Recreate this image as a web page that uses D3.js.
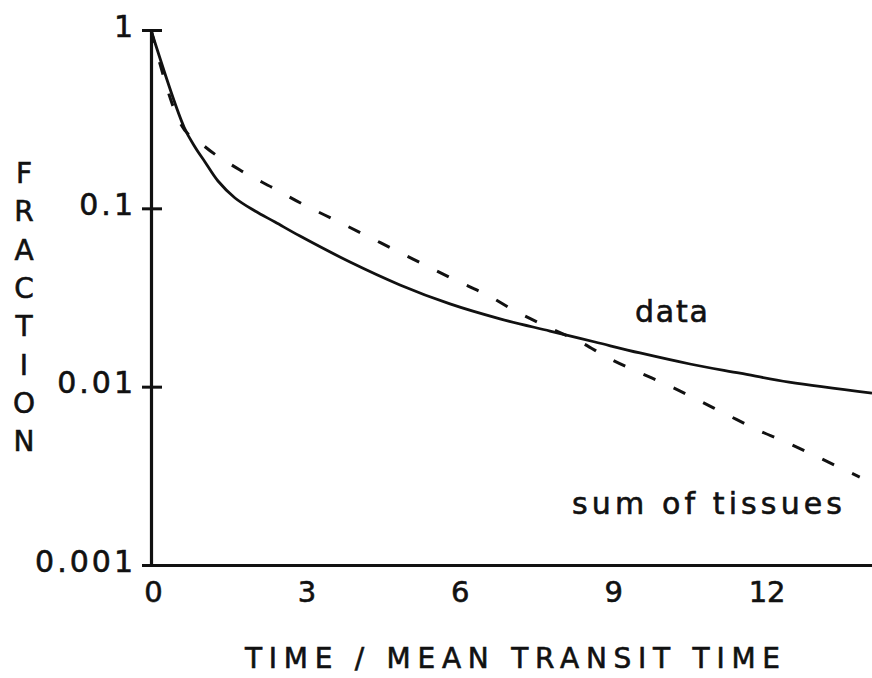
<!DOCTYPE html>
<html>
<head>
<meta charset="utf-8">
<script src="https://cdn.jsdelivr.net/npm/d3@7"></script>
<style>
  html, body { margin: 0; padding: 0; background: #fff; }
  svg { display: block; }
  text { font-family: "DejaVu Sans", "Liberation Sans", Arial, sans-serif; fill: #111; stroke: #111; stroke-width: 0.6px; }
</style>
</head>
<body>
<svg id="chart" width="872" height="678"></svg>
<script>
// Residence-time curves: measured "data" and the "sum of tissues" model
const dataTime   = [0, 0.645, 0.860, 1.056, 1.310, 1.643, 2.034, 2.425, 2.914, 3.892, 4.869, 5.847, 6.825, 7.803, 8.683, 9.563, 10.541, 11.519, 12.477, 14.10];
const dataFrac   = [1, 0.286, 0.2208, 0.182, 0.1423, 0.1143, 0.0966, 0.0838, 0.0699, 0.0500, 0.0372, 0.0291, 0.0240, 0.0205, 0.0178, 0.01545, 0.0134, 0.0119, 0.0106, 0.00921];

const tissueTime = [0, 0.57, 1.02, 1.74, 2.39, 3.01, 3.60, 4.19, 4.77, 5.36, 5.95, 6.57, 7.16, 7.76, 8.43, 8.94, 9.52, 10.11, 10.70, 11.28, 11.87, 12.46, 13.08, 13.86];
const tissueFrac = [1, 0.301, 0.226, 0.164, 0.130, 0.104, 0.0859, 0.0708, 0.0584, 0.0481, 0.0396, 0.0327, 0.0262, 0.0216, 0.0176, 0.0145, 0.0121, 0.0102, 0.00841, 0.00693, 0.00571, 0.00483, 0.00398, 0.00311];

const xTicks = [0, 3, 6, 9, 12];
const yTicks = [1, 0.1, 0.01, 0.001];
const yTickLabels = ["1", "0.1", "0.01", "0.001"];
const xTitle = "TIME / MEAN TRANSIT TIME";
const yTitle = "FRACTION";
const seriesLabels = ["data", "sum of tissues"];

const FONT = "DejaVu Sans, Liberation Sans, Arial, sans-serif";
const svg = d3.select("#chart");

const x = d3.scaleLinear().domain([0, 14.1]).range([151, 872]);
const y = d3.scaleLog().domain([0.001, 1]).range([565, 30]);

// y axis: ticks cross the axis line
const yAxis = d3.axisLeft(y)
  .tickValues(yTicks)
  .tickSizeInner(0)
  .tickSizeOuter(0)
  .tickFormat((d, i) => yTickLabels[i]);

const gy = svg.append("g").attr("transform", `translate(${x(0)},0)`).call(yAxis);
gy.select(".domain").attr("stroke", "#111").attr("stroke-width", 3.2);
gy.selectAll(".tick line")
  .attr("x1", -9).attr("x2", 11)
  .attr("stroke", "#111").attr("stroke-width", 3);
gy.selectAll(".tick text")
  .attr("x", -15)
  .attr("dy", 6)
  .attr("font-size", 30)
  .attr("letter-spacing", 3)
  .attr("font-family", FONT)
  .attr("fill", "#111");

// x axis: labels only
const xAxis = d3.axisBottom(x)
  .tickValues(xTicks)
  .tickSizeInner(0)
  .tickSizeOuter(0)
  .tickFormat(d3.format("d"));

const gx = svg.append("g").attr("transform", `translate(0,${y(0.001)})`).call(xAxis);
gx.select(".domain").attr("stroke", "#111").attr("stroke-width", 3.2);
gx.selectAll(".tick text")
  .attr("y", 37)
  .attr("dy", 0)
  .attr("dx", 2)
  .attr("font-size", 29)
  .attr("font-family", FONT)
  .attr("fill", "#111");

// curves
const dashedLine = d3.line()
  .x(d => x(d[0]))
  .y(d => y(d[1]))
  .curve(d3.curveMonotoneX);

const solidLine = d3.line()
  .x(d => x(d[0]))
  .y(d => y(d[1]))
  .curve(d3.curveCatmullRom.alpha(0.5));

svg.append("path")
  .datum(tissueTime.map((t, i) => [t, tissueFrac[i]]))
  .attr("d", dashedLine)
  .attr("fill", "none")
  .attr("stroke", "#111")
  .attr("stroke-width", 3)
  .attr("stroke-dasharray", "13,20");

svg.append("path")
  .datum(dataTime.map((t, i) => [t, dataFrac[i]]))
  .attr("d", solidLine)
  .attr("fill", "none")
  .attr("stroke", "#111")
  .attr("stroke-width", 2.8);

// series labels
svg.append("text")
  .attr("x", 635).attr("y", 322)
  .attr("font-size", 30)
  .attr("textLength", 73)
  .attr("lengthAdjust", "spacing")
  .text(seriesLabels[0]);

svg.append("text")
  .attr("x", 572).attr("y", 514)
  .attr("font-size", 30)
  .attr("textLength", 270)
  .attr("lengthAdjust", "spacing")
  .text(seriesLabels[1]);

// axis titles
svg.append("text")
  .attr("x", 245).attr("y", 668)
  .attr("font-size", 28)
  .attr("textLength", 535)
  .attr("lengthAdjust", "spacing")
  .text(xTitle);

svg.append("g")
  .selectAll("text")
  .data(yTitle.split(""))
  .join("text")
  .attr("x", 24)
  .attr("y", (d, i) => 183 + i * 38.3)
  .attr("text-anchor", "middle")
  .attr("font-size", 28)
  .text(d => d);
</script>
</body>
</html>
